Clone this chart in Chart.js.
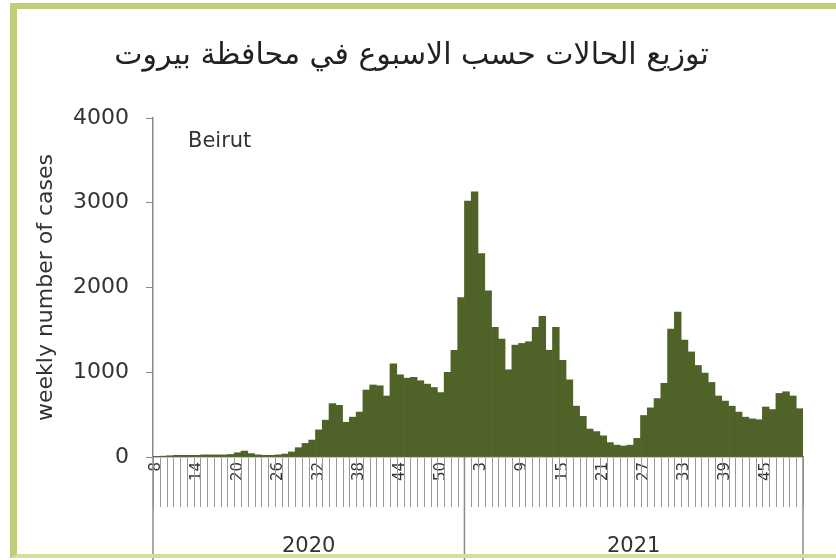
<!DOCTYPE html>
<html>
<head>
<meta charset="utf-8">
<script src="https://cdn.jsdelivr.net/npm/chart.js@4.4.0/dist/chart.umd.min.js"></script>
<style>
  html, body { margin: 0; padding: 0; background: #fff; }
  #wrap { position: relative; width: 836px; height: 560px; overflow: hidden; }
  #frame {
    position: absolute; left: 10px; top: 3px; right: 0; bottom: 2px;
    border-left: 7px solid #c2cb78; border-top: 6px solid #c2cb78;
    border-bottom: 4px solid #d6dd9e; pointer-events: none;
  }
</style>
</head>
<body>
<div id="wrap">
  <canvas id="chart" width="836" height="560"></canvas>
  <div id="frame"></div>
</div>
<script>
// week numbers per year (2020 starts at week 8, 2020 has 53 ISO weeks)
const weeks2020 = [8, 9, 10, 11, 12, 13, 14, 15, 16, 17, 18, 19, 20, 21, 22, 23, 24, 25, 26, 27, 28, 29, 30,
  31, 32, 33, 34, 35, 36, 37, 38, 39, 40, 41, 42, 43, 44, 45, 46, 47, 48, 49, 50, 51, 52, 53];
const weeks2021 = [1, 2, 3, 4, 5, 6, 7, 8, 9, 10, 11, 12, 13, 14, 15, 16, 17, 18, 19, 20, 21, 22, 23, 24, 25,
  26, 27, 28, 29, 30, 31, 32, 33, 34, 35, 36, 37, 38, 39, 40, 41, 42, 43, 44, 45, 46, 47, 48, 49, 50];

// weekly cases, Beirut
const cases2020 = [5, 10, 15, 20, 20, 20, 20, 25, 25, 25, 25, 30, 50, 70, 40, 25, 20, 20, 25, 35, 60, 110, 160,
  200, 320, 435, 630, 610, 410, 470, 530, 790, 850, 840, 720, 1100, 970, 930, 940, 900, 860, 820, 760, 1000,
  1260, 1880];
const cases2021 = [3020, 3130, 2400, 1960, 1530, 1390, 1030, 1320, 1340, 1360, 1530, 1660, 1260, 1530, 1140,
  910, 600, 480, 330, 300, 250, 170, 140, 130, 140, 220, 490, 580, 690, 870, 1510, 1710, 1380, 1240, 1080, 990,
  880, 720, 660, 600, 530, 470, 450, 440, 590, 560, 750, 770, 720, 570];

const years = ['2020', '2021'];
const yearWeeks = [weeks2020, weeks2021];
const yTicks = [0, 1000, 2000, 3000, 4000];

const titleText = 'توزيع الحالات حسب الاسبوع في محافظة بيروت';
const regionName = 'Beirut';

const labels = weeks2020.concat(weeks2021);
const values = cases2020.concat(cases2021);
const FONT = "'DejaVu Sans', sans-serif";

// tick band under the axis (a line between every week), then year row with dividers
const categoryBands = {
  id: 'categoryBands',
  afterDraw(chart) {
    const x = chart.scales.x;
    const ctx = chart.ctx;
    const w = (x.right - x.left) / labels.length;
    ctx.save();
    ctx.strokeStyle = '#999';
    ctx.lineWidth = 1;
    ctx.beginPath();
    for (let i = 0; i <= labels.length; i++) {
      const px = Math.round(x.left + i * w) + 0.5;
      ctx.moveTo(px, x.top + 1);
      ctx.lineTo(px, x.top + 50);
    }
    ctx.stroke();

    ctx.strokeStyle = '#8a8a8a';
    ctx.lineWidth = 1.5;
    ctx.beginPath();
    ctx.moveTo(x.left, x.top);
    ctx.lineTo(x.left, chart.height);
    let start = 0;
    const mids = [];
    yearWeeks.forEach(wk => {
      const x0 = x.left + start * w;
      const x1 = x.left + (start + wk.length) * w;
      ctx.moveTo(x1, x.top);
      ctx.lineTo(x1, chart.height);
      mids.push((x0 + x1) / 2);
      start += wk.length;
    });
    ctx.stroke();
    ctx.fillStyle = '#333';
    ctx.font = '21px ' + FONT;
    ctx.textAlign = 'center';
    ctx.textBaseline = 'middle';
    years.forEach((y, i) => ctx.fillText(y, mids[i], x.bottom - 13));
    ctx.restore();
  }
};

const regionLabel = {
  id: 'regionLabel',
  afterDraw(chart) {
    const a = chart.chartArea;
    const ctx = chart.ctx;
    ctx.save();
    ctx.fillStyle = '#333';
    ctx.font = '21px ' + FONT;
    ctx.textAlign = 'left';
    ctx.textBaseline = 'middle';
    ctx.fillText(regionName, a.left + 35, a.top + 24);
    ctx.restore();
  }
};

new Chart(document.getElementById('chart'), {
  type: 'bar',
  data: {
    labels: labels,
    datasets: [{
      data: values,
      backgroundColor: '#4f6228',
      borderWidth: 0,
      barPercentage: 1,
      categoryPercentage: 1
    }]
  },
  options: {
    responsive: false,
    animation: false,
    layout: { padding: { left: 20, right: 33, top: 20, bottom: 0 } },
    plugins: {
      legend: { display: false },
      tooltip: { enabled: false },
      title: {
        display: true,
        text: titleText,
        color: '#222',
        font: { family: FONT, size: 30, weight: 'normal' },
        padding: { top: 18, bottom: 44 }
      }
    },
    scales: {
      x: {
        grid: { display: true, drawOnChartArea: false, drawTicks: false },
        border: { display: true, color: '#888', width: 1.5 },
        ticks: {
          autoSkip: false,
          maxRotation: 90,
          minRotation: 90,
          padding: 5,
          color: '#333',
          font: { family: FONT, size: 15 },
          callback: (v, i) => (i % 6 === 0 ? String(labels[i]) : '')
        },
        afterFit: s => { s.height = 103; }
      },
      y: {
        min: yTicks[0],
        max: yTicks[yTicks.length - 1],
        afterBuildTicks: s => { s.ticks = yTicks.map(v => ({ value: v })); },
        grid: { drawOnChartArea: false, drawTicks: true, tickLength: 7, color: '#888' },
        border: { display: true, color: '#888', width: 1.5 },
        ticks: { color: '#333', padding: 17, font: { family: FONT, size: 22 }, callback: v => String(v) },
        title: {
          display: true,
          text: 'weekly number of cases',
          color: '#333',
          font: { family: FONT, size: 22 },
          padding: { top: 13, bottom: 0 }
        },
        afterFit: s => { s.width = 133; }
      }
    }
  },
  plugins: [categoryBands, regionLabel]
});
</script>
</body>
</html>
